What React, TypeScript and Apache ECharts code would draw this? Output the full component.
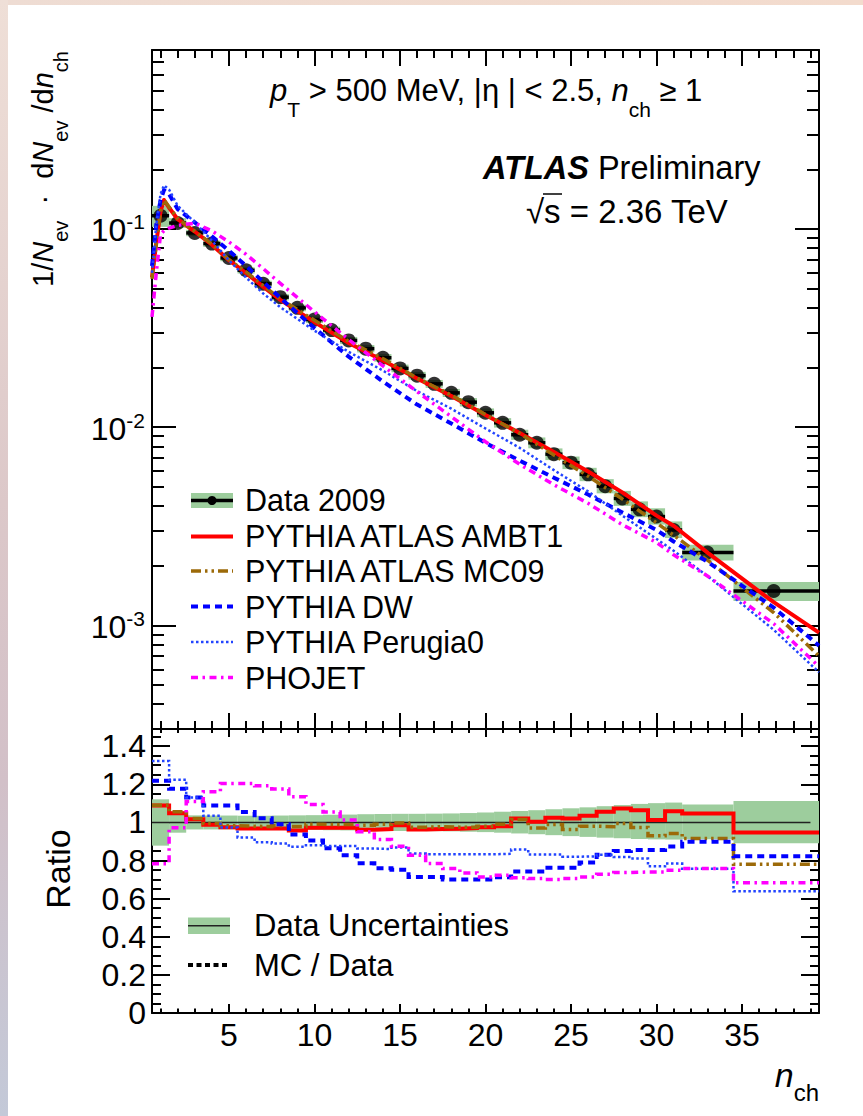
import React, { useEffect, useRef } from "react";
import * as echarts from "echarts";

const FONT = "Liberation Sans, Arial, Helvetica, sans-serif";

// ---------------- Data ----------------
// Data binning (n_ch)
const binLo = [0.5, 1.5, 2.5, 3.5, 4.5, 5.5, 6.5, 7.5, 8.5, 9.5, 10.5, 11.5, 12.5, 13.5, 14.5, 15.5, 16.5, 17.5, 18.5, 19.5, 20.5, 21.5, 22.5, 23.5, 24.5, 25.5, 26.5, 27.5, 28.5, 29.5, 30.5, 31.5, 34.5];
const binHi = [1.5, 2.5, 3.5, 4.5, 5.5, 6.5, 7.5, 8.5, 9.5, 10.5, 11.5, 12.5, 13.5, 14.5, 15.5, 16.5, 17.5, 18.5, 19.5, 20.5, 21.5, 22.5, 23.5, 24.5, 25.5, 26.5, 27.5, 28.5, 29.5, 30.5, 31.5, 34.5, 39.5];
const binX = [1, 2, 3, 4, 5, 6, 7, 8, 9, 10, 11, 12, 13, 14, 15, 16, 17, 18, 19, 20, 21, 22, 23, 24, 25, 26, 27, 28, 29, 30, 31, 32.97, 36.85];

// Data 2009: 1/Nev dNev/dnch
const data2009 = [0.1167, 0.1072, 0.0955, 0.0844, 0.0714, 0.0619, 0.0529, 0.0453, 0.04, 0.0349, 0.0309, 0.0274, 0.0249, 0.0224, 0.0198, 0.0182, 0.01655, 0.0149, 0.01337, 0.01182, 0.01052, 0.00916, 0.00834, 0.00731, 0.00662, 0.00578, 0.00504, 0.00437, 0.00385, 0.00354, 0.00303, 0.00233, 0.00149];

// Data uncertainty band (relative)
const bandLo = [0.878, 0.946, 0.963, 0.963, 0.963, 0.963, 0.963, 0.962, 0.961, 0.96, 0.959, 0.958, 0.957, 0.956, 0.955, 0.955, 0.954, 0.953, 0.951, 0.949, 0.946, 0.942, 0.938, 0.933, 0.928, 0.924, 0.92, 0.917, 0.913, 0.911, 0.91, 0.911, 0.89];
const bandHi = [1.121, 1.058, 1.037, 1.036, 1.036, 1.035, 1.035, 1.036, 1.037, 1.038, 1.04, 1.041, 1.043, 1.044, 1.045, 1.045, 1.046, 1.047, 1.049, 1.052, 1.056, 1.06, 1.064, 1.069, 1.074, 1.079, 1.085, 1.091, 1.097, 1.101, 1.104, 1.094, 1.112];

// MC / Data ratios per data bin
const ratioAMBT1 = [1.088, 1.048, 1.017, 0.987, 0.975, 0.968, 0.968, 0.968, 0.957, 0.972, 0.972, 0.972, 0.962, 0.965, 0.985, 0.963, 0.965, 0.967, 0.97, 0.975, 0.98, 1.02, 1.003, 1.024, 1.02, 1.035, 1.056, 1.073, 1.064, 1.012, 1.059, 1.047, 0.947];
const ratioMC09 = [1.09, 1.056, 1.02, 0.994, 0.982, 0.98, 0.978, 0.982, 0.978, 0.99, 0.988, 0.99, 0.985, 0.99, 0.997, 0.975, 0.978, 0.975, 0.975, 0.98, 0.99, 1.015, 0.971, 0.989, 0.963, 0.98, 0.977, 0.994, 0.973, 0.93, 0.942, 0.915, 0.78];
const ratioDW = [1.218, 1.176, 1.131, 1.088, 1.088, 1.055, 1.022, 0.99, 0.937, 0.905, 0.864, 0.828, 0.786, 0.759, 0.752, 0.714, 0.714, 0.7, 0.7, 0.7, 0.712, 0.742, 0.742, 0.762, 0.762, 0.79, 0.83, 0.85, 0.855, 0.855, 0.873, 0.898, 0.823];
const ratioPerugia0 = [1.322, 1.224, 1.131, 1.035, 0.973, 0.921, 0.896, 0.889, 0.872, 0.88, 0.876, 0.876, 0.863, 0.86, 0.868, 0.837, 0.833, 0.833, 0.833, 0.833, 0.835, 0.858, 0.831, 0.831, 0.82, 0.822, 0.83, 0.819, 0.81, 0.77, 0.784, 0.757, 0.639];
const ratioPHOJET = [0.783, 0.972, 1.11, 1.161, 1.204, 1.204, 1.192, 1.175, 1.135, 1.094, 1.055, 1.012, 0.951, 0.91, 0.875, 0.828, 0.784, 0.758, 0.735, 0.714, 0.723, 0.71, 0.705, 0.7, 0.705, 0.714, 0.728, 0.737, 0.74, 0.74, 0.749, 0.758, 0.683];

// MC predictions in the upper panel (nodes of the drawn curves)
const mcX = [0.5, 0.75, 1, 1.2, 1.5, 2, 3, 4, 5, 6, 7, 8, 10, 12, 14, 16, 18, 20, 22, 24, 26, 28, 30, 31, 33, 36.85, 39.5];
const mcAMBT1 = [0.057, 0.085, 0.123, 0.14, 0.128, 0.112, 0.0971, 0.0833, 0.0696, 0.0599, 0.0512, 0.0439, 0.0339, 0.0266, 0.0217, 0.0176, 0.01438, 0.01152, 0.00934, 0.00749, 0.00598, 0.00469, 0.00358, 0.00318, 0.00232, 0.00131, 0.00092];
const mcMC09 = [0.056, 0.084, 0.123, 0.14, 0.129, 0.113, 0.0974, 0.0839, 0.07, 0.0607, 0.0518, 0.0444, 0.0346, 0.0271, 0.0222, 0.0177, 0.01453, 0.01158, 0.0093, 0.00723, 0.00566, 0.00434, 0.00329, 0.00285, 0.00213, 0.00116, 0.0007];
const mcDW = [0.065, 0.105, 0.14, 0.157, 0.15, 0.126, 0.108, 0.0918, 0.0777, 0.0651, 0.0541, 0.0449, 0.0316, 0.0227, 0.017, 0.013, 0.01043, 0.00833, 0.00678, 0.00556, 0.00457, 0.00371, 0.00303, 0.00265, 0.00209, 0.00123, 0.00079];
const mcPerugia0 = [0.06, 0.105, 0.15, 0.166, 0.158, 0.131, 0.108, 0.0874, 0.0695, 0.0569, 0.0473, 0.0403, 0.0307, 0.024, 0.0193, 0.0152, 0.0124, 0.00985, 0.00786, 0.00607, 0.00474, 0.00358, 0.00273, 0.00238, 0.00177, 0.00095, 0.00058];
const mcPHOJET = [0.036, 0.06, 0.094, 0.098, 0.101, 0.1043, 0.107, 0.0979, 0.086, 0.0745, 0.0631, 0.0532, 0.0382, 0.0277, 0.0204, 0.0151, 0.0113, 0.00844, 0.0065, 0.00512, 0.00413, 0.00322, 0.00262, 0.00227, 0.00177, 0.00102, 0.00062];

// Axis tick values / labels
const xMajorTicks = [5, 10, 15, 20, 25, 30, 35];
const xMinorTicks = [1, 2, 3, 4, 5, 6, 7, 8, 9, 10, 11, 12, 13, 14, 15, 16, 17, 18, 19, 20, 21, 22, 23, 24, 25, 26, 27, 28, 29, 30, 31, 32, 33, 34, 35, 36, 37, 38, 39];
const yMainMajorTicks = [0.001, 0.01, 0.1];
const yMainMinorTicks = [0.0004, 0.0005, 0.0006, 0.0007, 0.0008, 0.0009, 0.002, 0.003, 0.004, 0.005, 0.006, 0.007, 0.008, 0.009, 0.02, 0.03, 0.04, 0.05, 0.06, 0.07, 0.08, 0.09, 0.2, 0.3, 0.4, 0.5, 0.6, 0.7];
const yRatioMajorTicks = [0, 0.2, 0.4, 0.6, 0.8, 1, 1.2, 1.4];
const yRatioMinorTicks = [0.05, 0.1, 0.15, 0.2, 0.25, 0.3, 0.35, 0.4, 0.45, 0.5, 0.55, 0.6, 0.65, 0.7, 0.75, 0.8, 0.85, 0.9, 0.95, 1, 1.05, 1.1, 1.15, 1.2, 1.25, 1.3, 1.35, 1.4, 1.45];

// ---------------- Styles ----------------
const GREEN = "#9dcd9d";
const RED = "#ff0000";
const BROWN = "#9c6a08";
const BLUE = "#0000ff";
const BLUE2 = "#2244ff";
const MAGENTA = "#ff00ff";
const DASH_MC09 = [10, 4, 2.5, 4, 2.5, 4];
const DASH_DW = [7, 5];
const DASH_PERU = [2.5, 2.5];
const DASH_PHO = [7, 4.5, 2.5, 4.5];

const X_MIN = 0.5;
const X_MAX = 39.5;

function xAxisDef(grid: number, position: string, ticks: number[], len: number, showLine: boolean, labels?: boolean) {
  return {
    type: "value",
    gridIndex: grid,
    position,
    min: X_MIN,
    max: X_MAX,
    axisLine: { show: showLine, onZero: false, lineStyle: { color: "#000", width: 2 } },
    axisTick: { show: true, inside: true, length: len, customValues: ticks, lineStyle: { color: "#000", width: 2 } },
    axisLabel: labels
      ? { show: true, customValues: xMajorTicks, color: "#000", fontFamily: FONT, fontSize: 32, margin: 6 }
      : { show: false },
    splitLine: { show: false },
  };
}

function yAxisDef(grid: number, position: string, type: string, min: number, max: number, ticks: number[], len: number, showLine: boolean, labels?: any) {
  return {
    type,
    gridIndex: grid,
    position,
    min,
    max,
    logBase: 10,
    axisLine: { show: showLine, onZero: false, lineStyle: { color: "#000", width: 2 } },
    axisTick: { show: true, inside: true, length: len, customValues: ticks, lineStyle: { color: "#000", width: 2 } },
    axisLabel: labels || { show: false },
    splitLine: { show: false },
  };
}

function stepData(r: number[]) {
  const out: number[][] = [];
  for (let i = 0; i < r.length; i++) {
    out.push([binLo[i], r[i]]);
    out.push([binHi[i], r[i]]);
  }
  return out;
}

const rectRender = (params: any, api: any) => {
  const x0 = api.value(0);
  const x1 = api.value(1);
  const y0 = api.value(2);
  const y1 = api.value(3);
  const p0 = api.coord([x0, y1]);
  const p1 = api.coord([x1, y0]);
  return {
    type: "rect",
    shape: { x: p0[0], y: p0[1], width: p1[0] - p0[0], height: p1[1] - p0[1] },
    style: { fill: GREEN },
  };
};

const errRender = (params: any, api: any) => {
  const p0 = api.coord([api.value(0), api.value(2)]);
  const p1 = api.coord([api.value(1), api.value(2)]);
  return {
    type: "line",
    shape: { x1: p0[0], y1: p0[1], x2: p1[0], y2: p1[1] },
    style: { stroke: "#000", lineWidth: 3.5 },
  };
};

function mainCurve(name: string, vals: number[], color: string, width: number, dash: any) {
  return {
    type: "line",
    name,
    xAxisIndex: 0,
    yAxisIndex: 0,
    data: mcX.map((x, i) => [x, vals[i]]),
    showSymbol: false,
    symbol: "none",
    silent: true,
    lineStyle: { color, width, type: dash, cap: "butt", join: "round" },
  };
}

function ratioCurve(name: string, r: number[], color: string, width: number, dash: any) {
  return {
    type: "line",
    name,
    xAxisIndex: 6,
    yAxisIndex: 4,
    data: stepData(r),
    showSymbol: false,
    symbol: "none",
    silent: true,
    lineStyle: { color, width, type: dash, cap: "butt", join: "miter" },
  };
}

function legendLine(y: number, color: string, width: number, dash: any, x0 = 191, x1 = 233) {
  return {
    type: "line",
    shape: { x1: x0, y1: y, x2: x1, y2: y },
    style: { stroke: color, lineWidth: width, lineDash: dash },
  };
}

function legendText(x: number, y: number, text: string, size: number) {
  return {
    type: "text",
    x,
    y,
    style: { text, fill: "#000", font: `${size}px ${FONT}`, align: "left", verticalAlign: "middle" },
  };
}

export default function App() {
  const ref = useRef<HTMLDivElement>(null);

  useEffect(() => {
    if (!ref.current) return;
    const chart = echarts.init(ref.current, null, { renderer: "svg", width: 863, height: 1116 });

    const mainBoxes = binLo.map((lo, i) => [lo, binHi[i], data2009[i] * bandLo[i], data2009[i] * bandHi[i]]);
    const ratioBoxes = binLo.map((lo, i) => [lo, binHi[i], bandLo[i], bandHi[i]]);
    const errBars = binLo.map((lo, i) => [lo, binHi[i], data2009[i]]);
    const points = binX.map((x, i) => [x, data2009[i]]);

    const option: any = {
      animation: false,
      backgroundColor: "#ffffff",
      grid: [
        { left: 152, top: 50, width: 667, height: 679 },
        { left: 152, top: 729, width: 667, height: 284 },
      ],
      xAxis: [
        xAxisDef(0, "bottom", xMajorTicks, 16, true),
        xAxisDef(0, "bottom", xMinorTicks, 8, false),
        xAxisDef(0, "top", xMajorTicks, 16, true),
        xAxisDef(0, "top", xMinorTicks, 8, false),
        xAxisDef(1, "top", xMajorTicks, 8, true),
        xAxisDef(1, "top", xMinorTicks, 4, false),
        xAxisDef(1, "bottom", xMajorTicks, 9, true, true),
        xAxisDef(1, "bottom", xMinorTicks, 4.5, false),
      ],
      yAxis: [
        yAxisDef(0, "left", "log", 0.0003, 0.8, yMainMajorTicks, 24, true, {
          show: true,
          customValues: yMainMajorTicks,
          margin: 7,
          formatter: (v: number) => `{b|10}{s|${Math.round(Math.log10(v))}}`,
          rich: {
            b: { fontFamily: FONT, fontSize: 32, color: "#000", lineHeight: 32, padding: [3, 0, 0, 0] },
            s: { fontFamily: FONT, fontSize: 21, color: "#000", lineHeight: 21, padding: [0, 0, 14, 0] },
          },
        }),
        yAxisDef(0, "left", "log", 0.0003, 0.8, yMainMinorTicks, 12, false),
        yAxisDef(0, "right", "log", 0.0003, 0.8, yMainMajorTicks, 24, true),
        yAxisDef(0, "right", "log", 0.0003, 0.8, yMainMinorTicks, 12, false),
        yAxisDef(1, "left", "value", 0, 1.49, yRatioMajorTicks, 18, true, {
          show: true,
          customValues: yRatioMajorTicks,
          margin: 6,
          color: "#000",
          fontFamily: FONT,
          fontSize: 32,
          formatter: (v: number) => (v === 0 ? "0" : v === 1 ? "1" : v.toFixed(1)),
        }),
        yAxisDef(1, "left", "value", 0, 1.49, yRatioMinorTicks, 9, false),
        yAxisDef(1, "right", "value", 0, 1.49, yRatioMajorTicks, 18, true),
        yAxisDef(1, "right", "value", 0, 1.49, yRatioMinorTicks, 9, false),
      ],
      series: [
        // ---- upper panel ----
        {
          type: "custom",
          name: "Data band",
          xAxisIndex: 0,
          yAxisIndex: 0,
          renderItem: rectRender,
          encode: { x: [0, 1], y: [2, 3] },
          data: mainBoxes,
          silent: true,
        },
        mainCurve("PYTHIA ATLAS AMBT1", mcAMBT1, RED, 4, "solid"),
        mainCurve("PYTHIA ATLAS MC09", mcMC09, BROWN, 3.5, DASH_MC09),
        mainCurve("PYTHIA DW", mcDW, BLUE, 4, DASH_DW),
        mainCurve("PYTHIA Perugia0", mcPerugia0, BLUE2, 2.5, DASH_PERU),
        mainCurve("PHOJET", mcPHOJET, MAGENTA, 3.5, DASH_PHO),
        {
          type: "custom",
          name: "Data 2009 bins",
          xAxisIndex: 0,
          yAxisIndex: 0,
          renderItem: errRender,
          encode: { x: [0, 1], y: 2 },
          data: errBars,
          silent: true,
        },
        {
          type: "scatter",
          name: "Data 2009",
          xAxisIndex: 0,
          yAxisIndex: 0,
          symbol: "circle",
          symbolSize: 14,
          itemStyle: { color: "#000" },
          data: points,
          silent: true,
        },
        // ---- ratio panel ----
        {
          type: "custom",
          name: "Data Uncertainties",
          xAxisIndex: 6,
          yAxisIndex: 4,
          renderItem: rectRender,
          encode: { x: [0, 1], y: [2, 3] },
          data: ratioBoxes,
          silent: true,
        },
        {
          type: "line",
          name: "unity",
          xAxisIndex: 6,
          yAxisIndex: 4,
          data: [
            [0.5, 1],
            [39, 1],
          ],
          showSymbol: false,
          symbol: "none",
          silent: true,
          lineStyle: { color: "#222", width: 1.5 },
        },
        ratioCurve("AMBT1 / Data", ratioAMBT1, RED, 4, "solid"),
        ratioCurve("MC09 / Data", ratioMC09, BROWN, 3.5, DASH_MC09),
        ratioCurve("DW / Data", ratioDW, BLUE, 4, DASH_DW),
        ratioCurve("Perugia0 / Data", ratioPerugia0, BLUE2, 2.5, DASH_PERU),
        ratioCurve("PHOJET / Data", ratioPHOJET, MAGENTA, 3.5, DASH_PHO),
      ],
      graphic: [
        // page frame strips
        {
          type: "rect",
          shape: { x: 0, y: 0, width: 863, height: 5 },
          style: {
            fill: new echarts.graphic.LinearGradient(0, 0, 1, 0, [
              { offset: 0, color: "#eedcd3" },
              { offset: 1, color: "#f3dbcd" },
            ]),
          },
          silent: true,
        },
        {
          type: "rect",
          shape: { x: 0, y: 0, width: 8, height: 1116 },
          style: {
            fill: new echarts.graphic.LinearGradient(0, 0, 0, 1, [
              { offset: 0, color: "#efdfd7" },
              { offset: 0.45, color: "#dcc8c9" },
              { offset: 0.7, color: "#d2c0c8" },
              { offset: 1, color: "#c3c9d8" },
            ]),
          },
          silent: true,
        },
        // header text
        {
          type: "text",
          x: 270,
          y: 82,
          style: {
            text: "{i|p}{s|T}{r| > 500 MeV, |η | < 2.5, }{i|n}{s|ch}{r| ≥ 1}",
            align: "left",
            verticalAlign: "top",
            rich: {
              r: { fontFamily: FONT, fontSize: 31, lineHeight: 31, padding: [0, 0, 13.4, 0], fill: "#000" },
              i: { fontFamily: FONT, fontSize: 31, fontStyle: "italic", lineHeight: 31, padding: [0, 0, 13.4, 0], fill: "#000" },
              s: { fontFamily: FONT, fontSize: 21, lineHeight: 21, padding: [23.4, 0, 0, 0], fill: "#000" },
            },
          },
        },
        {
          type: "text",
          x: 483,
          y: 168,
          style: {
            text: "{b|ATLAS}{r| Preliminary}",
            align: "left",
            verticalAlign: "middle",
            rich: {
              b: { fontFamily: FONT, fontSize: 32.5, fontWeight: "bold", fontStyle: "italic", fill: "#000" },
              r: { fontFamily: FONT, fontSize: 32.5, fill: "#000" },
            },
          },
        },
        {
          type: "text",
          x: 526,
          y: 211,
          style: { text: "√s = 2.36 TeV", fill: "#000", font: `33px ${FONT}`, align: "left", verticalAlign: "middle" },
        },
        {
          type: "line",
          shape: { x1: 543, y1: 194, x2: 562, y2: 194 },
          style: { stroke: "#000", lineWidth: 1.5 },
        },
        // y title (upper)
        {
          type: "text",
          x: 35,
          y: 169,
          rotation: Math.PI / 2,
          style: {
            text: "{r|1/}{i|N}{s|ev}{r|  ·  d}{i|N}{s|ev}{r| /d}{i|n}{s|ch}",
            align: "center",
            verticalAlign: "top",
            rich: {
              r: { fontFamily: FONT, fontSize: 29, lineHeight: 29, padding: [0, 0, 13, 0], fill: "#000" },
              i: { fontFamily: FONT, fontSize: 29, fontStyle: "italic", lineHeight: 29, padding: [0, 0, 13, 0], fill: "#000" },
              s: { fontFamily: FONT, fontSize: 20, lineHeight: 20, padding: [22, 0, 0, 0], fill: "#000" },
            },
          },
        },
        // y title (ratio)
        {
          type: "text",
          x: 58,
          y: 869,
          rotation: Math.PI / 2,
          style: { text: "Ratio", fill: "#000", font: `34px ${FONT}`, align: "center", verticalAlign: "middle" },
        },
        // x title
        {
          type: "text",
          x: 819,
          y: 1064,
          style: {
            text: "{i|n}{s|ch}",
            align: "right",
            verticalAlign: "top",
            rich: {
              i: { fontFamily: FONT, fontSize: 34, fontStyle: "italic", lineHeight: 34, padding: [0, 0, 12, 0], fill: "#000" },
              s: { fontFamily: FONT, fontSize: 24, lineHeight: 24, padding: [22, 0, 0, 0], fill: "#000" },
            },
          },
        },
        // upper legend
        { type: "rect", shape: { x: 191, y: 493, width: 42, height: 15 }, style: { fill: GREEN } },
        legendLine(500.5, "#000", 3.5, null),
        { type: "circle", shape: { cx: 212, cy: 500.5, r: 4.5 }, style: { fill: "#000" } },
        legendText(245, 500, "Data 2009", 30.5),
        legendLine(536.5, RED, 4, null),
        legendText(245, 536, "PYTHIA ATLAS AMBT1", 30.5),
        legendLine(571, BROWN, 3.5, DASH_MC09),
        legendText(245, 571, "PYTHIA ATLAS MC09", 30.5),
        legendLine(606.5, BLUE, 4, DASH_DW),
        legendText(245, 606.5, "PYTHIA DW", 30.5),
        legendLine(642, BLUE2, 2.5, DASH_PERU),
        legendText(245, 642, "PYTHIA Perugia0", 30.5),
        legendLine(677.5, MAGENTA, 3.5, DASH_PHO),
        legendText(245, 677.5, "PHOJET", 30.5),
        // ratio legend
        { type: "rect", shape: { x: 188, y: 917.5, width: 42, height: 16.5 }, style: { fill: GREEN } },
        legendLine(925.7, "#222", 1.5, null, 188, 230),
        legendText(254, 925, "Data Uncertainties", 31),
        legendLine(965, "#000", 4, [5, 3.5], 188, 230),
        legendText(254, 965, "MC / Data", 31),
      ],
    };

    chart.setOption(option);
    return () => {
      chart.dispose();
    };
  }, []);

  return (
    <div
      ref={ref}
      style={{ position: "absolute", left: 0, top: 0, width: 863, height: 1116, background: "#fff" }}
    />
  );
}
